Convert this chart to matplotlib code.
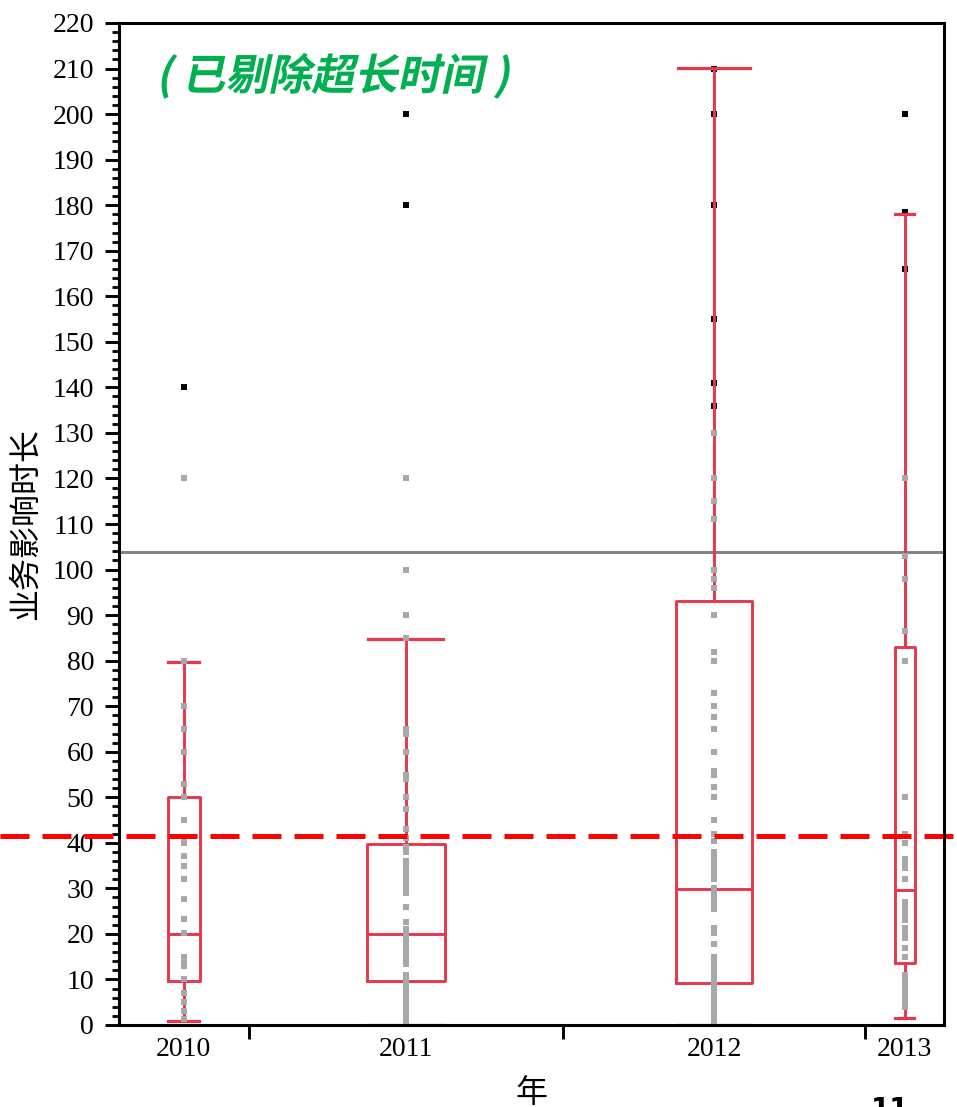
import numpy as np
import matplotlib
matplotlib.use("Agg")
import matplotlib.pyplot as plt
from matplotlib import patheffects
from matplotlib.transforms import Affine2D

# --- données ---
years = ["2010", "2011", "2012", "2013"]
group_counts = [33, 80, 77, 20]          # largeur relative de chaque année

q1 = [9.7, 9.7, 9.2, 13.6]
med = [20, 20, 29.8, 29.7]
q3 = [50.1, 39.8, 93.0, 83.1]
whis_lo = [0.8, 0.0, 0.0, 1.6]
whis_hi = [79.7, 84.7, 210.1, 178.0]

pts_2010 = [120, 80, 70, 65, 60, 53, 50, 45, 41, 40, 37, 35, 32, 27.6, 23.2,
            20.3, 15, 14, 13, 10, 7, 5, 3, 1.3]
pts_2011 = [120, 100, 90, 85, 65, 64, 60, 55, 54, 50, 47.5, 43, 41, 39, 38,
            36, 35, 34, 33, 32, 31, 30, 29, 26, 22.6, 21, 20, 19, 18, 17, 16,
            15, 14, 13.5, 11, 10, 9, 8, 7, 6, 5, 4, 3, 2, 1, 0]
pts_2012 = [130, 120, 115, 111, 100, 98, 96, 90, 82, 80, 73, 70, 67.7, 65, 60,
            55.8, 55, 52.3, 50, 45, 42, 40.4, 38, 37, 36, 35, 34, 33, 32, 30,
            29, 28, 27, 26, 25.4, 21.4, 20.3, 17.7, 15, 14, 13, 12, 11, 10, 9,
            8, 7, 6, 5, 4, 3, 2, 1, 0]
pts_2013 = [120, 103, 98, 86.5, 80, 50, 42, 40, 36.4, 35.5, 34.5, 32, 27, 26,
            25, 24, 23, 21.4, 20, 19, 17, 15, 11, 10, 9, 8, 7, 6, 5, 4]
points = [pts_2010, pts_2011, pts_2012, pts_2013]

outliers = [[140], [200, 180], [210, 200, 180, 155, 141, 136], [200, 178.5, 166]]

ref_gray = 103.9      # ligne grise
ref_red = 41.5        # ligne rouge pointillée

title_txt = "( 已剔除超长时间 )"
ylabel_txt = "业务影响时长"
xlabel_txt = "年"

# --- positions ---
edges = np.concatenate([[0], np.cumsum(group_counts)])
centers = (edges[:-1] + edges[1:]) / 2
widths = 0.25 * np.array(group_counts)

box_color = "#e8364c"
serif = ["Liberation Serif", "DejaVu Serif"]
cjk = ["Noto Sans CJK SC", "DejaVu Sans"]


class Skew(patheffects.AbstractPathEffect):
    """fausse italique : cisaillement autour de l'origine du texte"""
    def __init__(self, angle=12):
        super().__init__()
        self.angle = angle

    def draw_path(self, renderer, gc, tpath, affine, rgbFace=None):
        ox, oy = affine.transform((0, 0))
        t = affine + Affine2D().translate(-ox, -oy).skew_deg(self.angle, 0).translate(ox, oy)
        renderer.draw_path(gc, tpath, t, rgbFace)


fig = plt.figure(figsize=(9.57, 11.07), dpi=100)
ax = fig.add_axes([119 / 957, 1 - 1025 / 1107, 825 / 957, 1002 / 1107])

stats = []
for i in range(len(years)):
    stats.append(dict(med=med[i], q1=q1[i], q3=q3[i],
                      whislo=whis_lo[i], whishi=whis_hi[i], fliers=[]))

ax.bxp(stats, positions=centers, widths=widths, capwidths=widths * 0.95,
       showfliers=False, manage_ticks=False,
       boxprops=dict(color=box_color, linewidth=2.1),
       whiskerprops=dict(color=box_color, linewidth=2.1),
       capprops=dict(color=box_color, linewidth=2.3),
       medianprops=dict(color=box_color, linewidth=2.1), zorder=3)

for i in range(len(years)):
    ax.scatter(np.full(len(points[i]), centers[i]), points[i], marker="s", s=13,
               color="#a8a8a8", linewidths=0, zorder=4)
    ax.scatter(np.full(len(outliers[i]), centers[i]), outliers[i], marker="s", s=18,
               color="black", linewidths=0, zorder=2.5)

ax.axhline(ref_gray, color="#808080", linewidth=2.1, zorder=2)
ax.axhline(ref_red, xmin=-119 / 825, xmax=(957 - 119) / 825, color="#ff0000",
           linewidth=3.6, linestyle=(0, (5.8, 2.6)), clip_on=False, zorder=5)

ax.set_xlim(edges[0], edges[-1])
ax.set_ylim(0, 220)

ax.set_yticks(np.arange(0, 221, 10))
ax.set_yticks(np.arange(0, 221, 2), minor=True)
ax.tick_params(axis="y", which="major", direction="out", length=10, width=2.1,
               pad=8, labelsize=20)
ax.tick_params(axis="y", which="minor", direction="out", length=5, width=2.0)
for lab in ax.get_yticklabels():
    lab.set_fontfamily(serif)

ax.set_xticks(edges[1:-1], labels=[""] * (len(edges) - 2))
ax.set_xticks(centers, labels=years, minor=True)
ax.tick_params(axis="x", which="major", direction="out", length=10, width=2.1)
ax.tick_params(axis="x", which="minor", length=0, pad=9, labelsize=20)
for lab in ax.get_xticklabels(minor=True):
    lab.set_fontfamily(serif)

for sp in ax.spines.values():
    sp.set_linewidth(2.2)
    sp.set_zorder(6)

ax.set_ylabel(ylabel_txt, fontsize=23, family=cjk, fontweight="light")
ax.yaxis.set_label_coords(-0.094, 0.5)
fig.text(531 / 957, 1 - 1093 / 1107, xlabel_txt, fontsize=23, family=cjk,
         fontweight="light", ha="center", va="center")

fig.text(156 / 957, 1 - 76 / 1107, title_txt, fontsize=31, fontweight="black",
         color="#00b050", family=cjk, ha="left", va="center",
         path_effects=[Skew(12)])

fig.text(890 / 957, 1 - 1096 / 1107, "11", fontsize=20, fontweight="bold",
         family=["DejaVu Sans"], ha="center", va="top")

fig.savefig("out.png", dpi=100)
